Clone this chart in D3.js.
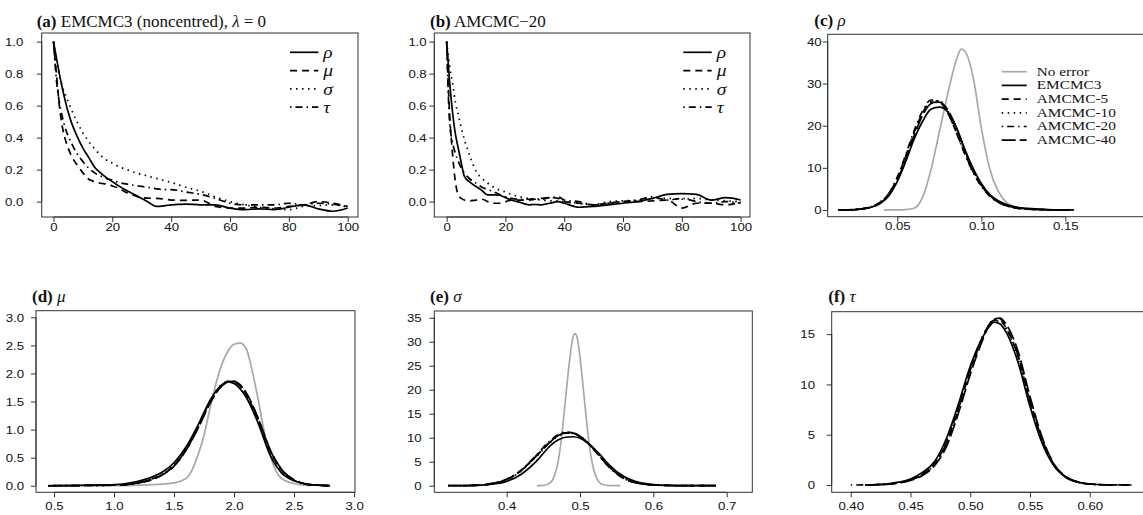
<!DOCTYPE html>
<html>
<head>
<meta charset="utf-8">
<script src="https://cdn.jsdelivr.net/npm/d3@7.9.0/dist/d3.min.js"></script>
<style>
  body { margin: 0; background: #fff; }
  svg { display: block; }
</style>
</head>
<body>
<svg id="chart" width="1143" height="515"></svg>
<script>
// ---- autocorrelation data (panels a, b) ----
const acfLags = [0,1,2,3,4,5,6,8,10,12,14,16,18,20,22,25,28,30,32,35,38,40,45,50,55,60,65,70,75,80,85,90,95,100];

const acfEmcmcRho = [1.0,0.9,0.8,0.71,0.63,0.56,0.5,0.41,0.335,0.275,0.215,0.18,0.15,0.125,0.1,0.068,0.04,0.02,0.0,-0.03,-0.025,-0.02,-0.015,-0.02,-0.02,-0.04,-0.05,-0.045,-0.05,-0.035,-0.02,-0.045,-0.06,-0.04];
const acfEmcmcMu = [1.0,0.8,0.6,0.47,0.39,0.335,0.29,0.23,0.18,0.14,0.125,0.115,0.11,0.098,0.085,0.055,0.035,0.025,0.022,0.02,0.015,0.01,0.008,0.01,-0.03,-0.04,-0.04,-0.035,-0.04,-0.03,-0.02,0.0,-0.01,-0.03];
const acfEmcmcSigma = [1.0,0.88,0.79,0.72,0.67,0.625,0.58,0.5,0.43,0.375,0.33,0.29,0.26,0.24,0.22,0.2,0.18,0.17,0.16,0.145,0.13,0.12,0.09,0.065,0.03,0.0,-0.02,-0.035,-0.045,-0.05,-0.03,-0.025,-0.02,-0.035];
const acfEmcmcTau = [1.0,0.76,0.62,0.53,0.46,0.41,0.37,0.3,0.25,0.21,0.18,0.16,0.145,0.135,0.12,0.11,0.1,0.095,0.09,0.08,0.075,0.075,0.06,0.045,0.02,-0.01,-0.02,-0.02,-0.02,-0.01,-0.02,-0.01,-0.015,-0.03];

const acfAmcmcRho = [1.0,0.75,0.56,0.42,0.33,0.24,0.16,0.12,0.095,0.07,0.042,0.042,0.04,0.025,0.01,-0.005,-0.02,-0.018,-0.02,-0.01,0.0,-0.01,-0.035,-0.03,-0.02,-0.01,0.0,0.02,0.045,0.05,0.045,0.01,0.025,0.01];
const acfAmcmcMu = [1.0,0.55,0.3,0.12,0.04,0.02,0.01,0.005,0.01,0.015,0.0,-0.01,-0.01,0.0,0.01,0.01,0.01,0.015,0.02,0.025,0.02,0.0,-0.01,-0.02,-0.01,0.0,0.0,0.005,0.01,-0.04,-0.01,-0.01,-0.02,0.0];
const acfAmcmcSigma = [1.0,0.85,0.74,0.62,0.54,0.46,0.39,0.28,0.19,0.145,0.115,0.09,0.072,0.06,0.045,0.03,0.02,0.015,0.01,0.005,0.005,0.0,-0.01,-0.02,0.0,0.005,0.01,0.02,0.02,0.015,0.02,0.01,0.005,0.0];
const acfAmcmcTau = [1.0,0.5,0.37,0.3,0.25,0.21,0.18,0.14,0.115,0.09,0.075,0.062,0.045,0.03,0.02,0.015,0.015,0.02,0.015,0.025,0.03,0.01,0.0,-0.02,-0.01,0.0,0.01,0.03,0.01,0.02,0.0,-0.01,0.0,-0.01];

// ---- posterior density data (panels c-f) ----
const rhoGrid = [0.015,0.02,0.025,0.03,0.035,0.04,0.045,0.05,0.055,0.06,0.065,0.07,0.075,0.08,0.085,0.09,0.095,0.10,0.105,0.11,0.115,0.12,0.13,0.14,0.155];
const rhoEmcmc3 = [0,0.02,0.1,0.3,0.7,1.6,3.4,6.8,11.5,16.8,21.0,23.9,24.4,23.3,19.8,14.6,10.0,6.3,3.7,2.2,1.3,0.75,0.3,0.1,0];
const rhoAmcmc5 = [0,0.02,0.1,0.3,0.8,1.8,3.9,7.6,12.8,18.4,23.0,25.6,25.5,23.0,18.6,13.6,9.2,5.8,3.4,1.9,1.0,0.5,0.15,0.05,0];
const rhoAmcmc10 = [0,0.02,0.1,0.3,0.8,1.7,3.7,7.3,12.4,18.0,22.8,25.6,25.9,23.6,19.2,14.0,9.5,6.0,3.5,2.0,1.1,0.55,0.18,0.05,0];
const rhoAmcmc20 = [0,0.02,0.1,0.35,0.85,1.9,4.0,7.8,13.1,18.8,23.5,26.1,25.8,23.1,18.5,13.4,9.0,5.6,3.3,1.8,1.0,0.5,0.15,0.04,0];
const rhoAmcmc40 = [0,0.02,0.1,0.3,0.75,1.7,3.6,7.1,12.0,17.6,22.4,25.2,25.6,23.8,19.6,14.4,9.6,6.0,3.5,2.0,1.1,0.55,0.18,0.05,0];
const rhoNoErrX = [0.042,0.05,0.055,0.06,0.065,0.07,0.075,0.08,0.085,0.088,0.09,0.095,0.10,0.105,0.11,0.115,0.12,0.13,0.143];
const rhoNoErr = [0,0.02,0.1,0.4,3.0,9.5,18.5,27.5,35.5,38.2,37.8,31.8,19.5,9.8,4.5,1.8,0.8,0.2,0];

const muGrid = [0.45,0.6,0.8,1.0,1.1,1.2,1.3,1.4,1.5,1.6,1.7,1.8,1.9,1.95,2.0,2.05,2.1,2.2,2.3,2.4,2.5,2.6,2.7,2.8];
const muEmcmc3 = [0,0.003,0.01,0.02,0.04,0.08,0.14,0.24,0.41,0.69,1.08,1.52,1.80,1.85,1.82,1.73,1.58,1.12,0.55,0.22,0.09,0.03,0.01,0];
const muAmcmc5 = [0,0.002,0.005,0.01,0.02,0.05,0.1,0.19,0.36,0.65,1.05,1.50,1.80,1.86,1.85,1.78,1.63,1.18,0.62,0.27,0.1,0.03,0.01,0];
const muAmcmc10 = [0,0.002,0.005,0.01,0.02,0.05,0.1,0.2,0.37,0.66,1.06,1.51,1.81,1.85,1.84,1.76,1.61,1.16,0.6,0.26,0.1,0.03,0.01,0];
const muAmcmc20 = [0,0.002,0.005,0.01,0.02,0.05,0.11,0.2,0.36,0.64,1.03,1.48,1.79,1.86,1.86,1.79,1.65,1.2,0.64,0.28,0.1,0.03,0.01,0];
const muAmcmc40 = [0,0.002,0.005,0.01,0.02,0.05,0.1,0.19,0.35,0.63,1.02,1.47,1.78,1.85,1.86,1.8,1.66,1.21,0.65,0.28,0.11,0.03,0.01,0];
const muNoErrX = [1.0,1.2,1.4,1.5,1.6,1.65,1.7,1.75,1.8,1.85,1.9,1.95,2.0,2.05,2.1,2.15,2.2,2.25,2.3,2.35,2.4,2.5,2.63];
const muNoErr = [0,0.01,0.03,0.05,0.13,0.28,0.55,0.9,1.38,1.82,2.17,2.40,2.52,2.54,2.45,2.06,1.55,0.98,0.55,0.26,0.12,0.04,0];

const sigmaGrid = [0.32,0.34,0.36,0.38,0.40,0.42,0.44,0.46,0.47,0.48,0.49,0.50,0.51,0.52,0.53,0.54,0.56,0.58,0.60,0.62,0.65,0.685];
const sigmaEmcmc3 = [null,0,0.05,0.3,0.9,2.4,5.0,8.4,9.5,10.1,10.2,9.9,9.0,7.6,6.0,4.3,1.9,0.7,0.25,0.08,0.02,0];
const sigmaAmcmc5 = [0,0.02,0.1,0.45,1.3,3.2,6.2,9.3,10.4,11.0,10.9,10.2,9.0,7.4,5.6,3.9,1.5,0.5,0.15,0.05,0.01,0];
const sigmaAmcmc10 = [null,0.02,0.1,0.42,1.25,3.1,6.0,9.1,10.3,10.9,10.9,10.3,9.1,7.5,5.7,4.0,1.6,0.5,0.15,0.05,0.01,0];
const sigmaAmcmc20 = [0,0.02,0.12,0.48,1.35,3.3,6.3,9.5,10.6,11.2,11.0,10.2,8.9,7.3,5.5,3.8,1.5,0.5,0.15,0.05,0.01,0];
const sigmaAmcmc40 = [0,0.02,0.1,0.44,1.3,3.2,6.1,9.2,10.4,11.0,11.0,10.3,9.0,7.4,5.6,3.9,1.5,0.5,0.15,0.05,0.01,0];
const sigmaNoErrX = [0.441,0.45,0.46,0.465,0.47,0.475,0.48,0.485,0.49,0.493,0.496,0.50,0.505,0.51,0.515,0.52,0.525,0.53,0.54,0.555];
const sigmaNoErr = [0,0.05,0.7,2.0,4.9,10.3,17.7,25.1,30.7,31.7,30.9,26.8,19.4,11.9,6.1,2.6,0.95,0.29,0.02,0];

const tauGrid = [0.40,0.412,0.43,0.44,0.45,0.46,0.47,0.48,0.49,0.50,0.51,0.515,0.52,0.525,0.53,0.54,0.55,0.56,0.57,0.58,0.59,0.60,0.615,0.635];
const tauEmcmc3 = [null,0,0.1,0.28,0.6,1.25,2.3,4.6,8.0,11.8,14.6,15.6,16.2,16.0,15.2,12.2,7.8,4.2,1.9,0.75,0.28,0.1,0.02,null];
const tauAmcmc5 = [null,0,0.08,0.22,0.5,1.05,2.1,4.2,7.6,11.5,14.6,15.8,16.4,16.4,15.6,12.8,8.3,4.5,2.0,0.8,0.3,0.1,0.02,0];
const tauAmcmc10 = [null,0,0.08,0.23,0.52,1.1,2.15,4.3,7.7,11.6,14.7,15.8,16.3,16.3,15.5,12.6,8.1,4.4,2.0,0.8,0.3,0.1,0.02,null];
const tauAmcmc20 = [0,0.01,0.08,0.22,0.5,1.05,2.05,4.1,7.5,11.4,14.5,15.8,16.5,16.5,15.7,12.9,8.4,4.6,2.05,0.8,0.3,0.1,0.02,0];
const tauAmcmc40 = [null,0,0.07,0.2,0.45,0.95,1.9,3.8,7.1,11.0,14.3,15.7,16.5,16.6,16.0,13.3,8.8,4.8,2.1,0.85,0.3,0.1,0.02,0];

const acfNames = ["ρ", "μ", "σ", "τ"];
const methodNames = ["No error", "EMCMC3", "AMCMC-5", "AMCMC-10", "AMCMC-20", "AMCMC-40"];

// ---- styling ----
const dashes = {
  solid: null,
  dashed: "7,5",
  dotted: "1.5,4.5",
  dotdash: "1.5,4,7,4",
  longdash: "14,4"
};
const GREY = "#a8a8a8";
const SANS = "'Liberation Sans', Arial, sans-serif";
const SERIF = "'Liberation Serif', 'Times New Roman', serif";
const SX = 1.2; // tick labels in the original are horizontally stretched

const svg = d3.select("#chart");

function methodSeries(xs, noErr, noErrX, e3, a5, a10, a20, a40) {
  const out = [];
  if (noErr) out.push({ x: noErrX, y: noErr, dash: "solid", color: GREY });
  out.push({ x: xs, y: e3, dash: "solid" });
  out.push({ x: xs, y: a5, dash: "dashed" });
  out.push({ x: xs, y: a10, dash: "dotted" });
  out.push({ x: xs, y: a20, dash: "dotdash" });
  out.push({ x: xs, y: a40, dash: "longdash" });
  return out;
}

const panels = [
  {
    box: { x0: 41.7, x1: 358, y0: 33, y1: 217 }, xlim: [-4, 103.5], ylim: [-0.096, 1.054],
    xTicks: [0, 20, 40, 60, 80, 100], xFmt: "d", yTicks: [0, 0.2, 0.4, 0.6, 0.8, 1.0], yFmt: ".1f",
    yGap: 18.4, xBase: 13.7,
    title: { x: 36.7, y: 26.7, tag: "(a)", parts: [[" EMCMC3 (noncentred), ", false], ["λ", true], [" = 0", false]] },
    series: [
      { x: acfLags, y: acfEmcmcRho, dash: "solid" },
      { x: acfLags, y: acfEmcmcMu, dash: "dashed" },
      { x: acfLags, y: acfEmcmcSigma, dash: "dotted" },
      { x: acfLags, y: acfEmcmcTau, dash: "dotdash" }
    ],
    legend: { x0: 290, x1: 318.3, tx: 323.3, y0: 52.3, dy: 18.3, labels: acfNames, italic: true, size: 17, sx: 1.15,
      dash: ["solid", "dashed", "dotted", "dotdash"] }
  },
  {
    box: { x0: 434.3, x1: 750, y0: 33, y1: 217 }, xlim: [-4.2, 103.2], ylim: [-0.096, 1.054],
    xTicks: [0, 20, 40, 60, 80, 100], xFmt: "d", yTicks: [0, 0.2, 0.4, 0.6, 0.8, 1.0], yFmt: ".1f",
    yGap: 7.6, xBase: 13.7,
    title: { x: 430, y: 26.7, tag: "(b)", parts: [[" AMCMC\u221220", false]] },
    series: [
      { x: acfLags, y: acfAmcmcRho, dash: "solid" },
      { x: acfLags, y: acfAmcmcMu, dash: "dashed" },
      { x: acfLags, y: acfAmcmcSigma, dash: "dotted" },
      { x: acfLags, y: acfAmcmcTau, dash: "dotdash" }
    ],
    legend: { x0: 683.3, x1: 711.7, tx: 716.7, y0: 52.3, dy: 18.3, labels: acfNames, italic: true, size: 17, sx: 1.15,
      dash: ["solid", "dashed", "dotted", "dotdash"] }
  },
  {
    box: { x0: 827.7, x1: 1150, y0: 34.3, y1: 216.7 }, xlim: [0.00857, 0.2004], ylim: [-1.6, 41.7],
    xTicks: [0.05, 0.10, 0.15], xFmt: ".2f", yTicks: [0, 10, 20, 30, 40], yFmt: "d",
    yGap: 6, xBase: 13.7,
    title: { x: 814.3, y: 26, tag: "(c)", parts: [[" ", false], ["ρ", true]] },
    series: methodSeries(rhoGrid, rhoNoErr, rhoNoErrX, rhoEmcmc3, rhoAmcmc5, rhoAmcmc10, rhoAmcmc20, rhoAmcmc40),
    legend: { x0: 1001.7, x1: 1026.7, tx: 1036.7, y0: 71.7, dy: 13.7, labels: methodNames, italic: false, size: 11.8, sx: 1.3,
      dash: ["solid", "solid", "dashed", "dotted", "dotdash", "longdash"], colors: [GREY] }
  },
  {
    box: { x0: 36, x1: 355, y0: 310.7, y1: 492.3 }, xlim: [0.35, 3.008], ylim: [-0.117, 3.118],
    xTicks: [0.5, 1.0, 1.5, 2.0, 2.5, 3.0], xFmt: ".1f", yTicks: [0, 0.5, 1.0, 1.5, 2.0, 2.5, 3.0], yFmt: ".1f",
    yGap: 12, xBase: 18,
    title: { x: 32, y: 301.7, tag: "(d)", parts: [[" ", false], ["μ", true]] },
    series: methodSeries(muGrid, muNoErr, muNoErrX, muEmcmc3, muAmcmc5, muAmcmc10, muAmcmc20, muAmcmc40)
  },
  {
    box: { x0: 434.3, x1: 752.3, y0: 311, y1: 492.3 }, xlim: [0.3013, 0.7349], ylim: [-1.375, 36.4],
    xTicks: [0.4, 0.5, 0.6, 0.7], xFmt: ".1f", yTicks: [0, 5, 10, 15, 20, 25, 30, 35], yFmt: "d",
    yGap: 12.6, xBase: 18,
    title: { x: 430, y: 301.5, tag: "(e)", parts: [[" ", false], ["σ", true]] },
    series: methodSeries(sigmaGrid, sigmaNoErr, sigmaNoErrX, sigmaEmcmc3, sigmaAmcmc5, sigmaAmcmc10, sigmaAmcmc20, sigmaAmcmc40)
  },
  {
    box: { x0: 831.7, x1: 1150, y0: 311.7, y1: 492.3 }, xlim: [0.3841, 0.6504], ylim: [-0.726, 17.23],
    xTicks: [0.40, 0.45, 0.50, 0.55, 0.60], xFmt: ".2f", yTicks: [0, 5, 10, 15], yFmt: "d",
    yGap: 16.7, xBase: 18,
    title: { x: 828.3, y: 301.5, tag: "(f)", parts: [[" ", false], ["τ", true]] },
    series: methodSeries(tauGrid, null, null, tauEmcmc3, tauAmcmc5, tauAmcmc10, tauAmcmc20, tauAmcmc40)
  }
];

function drawPanel(p) {
  const b = p.box;
  const g = svg.append("g");
  const x = d3.scaleLinear().domain(p.xlim).range([b.x0, b.x1]);
  const y = d3.scaleLinear().domain(p.ylim).range([b.y1, b.y0]);

  // curves
  const line = d3.line()
    .defined(d => d[1] != null)
    .x(d => x(d[0]))
    .y(d => y(d[1]))
    .curve(d3.curveMonotoneX);

  p.series.forEach(s => {
    const pts = s.x.map((v, i) => [v, s.y[i]]);
    g.append("path")
      .attr("d", line(pts))
      .attr("fill", "none")
      .attr("stroke", s.color || "#000")
      .attr("stroke-width", 1.7)
      .attr("stroke-linejoin", "round")
      .attr("stroke-dasharray", dashes[s.dash]);
  });

  // frame
  g.append("rect")
    .attr("x", b.x0).attr("y", b.y0)
    .attr("width", b.x1 - b.x0).attr("height", b.y1 - b.y0)
    .attr("fill", "none").attr("stroke", "#333").attr("stroke-width", 1);

  // x axis
  const gx = g.append("g")
    .attr("transform", `translate(0,${b.y1})`)
    .call(d3.axisBottom(x).tickValues(p.xTicks).tickFormat(d3.format(p.xFmt)).tickSize(5).tickPadding(0));
  gx.select(".domain").remove();
  gx.append("line")
    .attr("x1", x(p.xTicks[0])).attr("x2", x(p.xTicks[p.xTicks.length - 1]))
    .attr("stroke", "#333");
  gx.selectAll(".tick line").attr("stroke", "#333");
  gx.selectAll(".tick text")
    .attr("y", 0).attr("dy", null)
    .attr("transform", `translate(0,${p.xBase}) scale(${SX},1)`)
    .attr("fill", "#111")
    .style("font-family", SANS).style("font-size", "11px");

  // y axis
  const gy = g.append("g")
    .attr("transform", `translate(${b.x0},0)`)
    .call(d3.axisLeft(y).tickValues(p.yTicks).tickFormat(d3.format(p.yFmt)).tickSize(5).tickPadding(0));
  gy.select(".domain").remove();
  gy.append("line")
    .attr("y1", y(p.yTicks[0])).attr("y2", y(p.yTicks[p.yTicks.length - 1]))
    .attr("stroke", "#333");
  gy.selectAll(".tick line").attr("stroke", "#333");
  gy.selectAll(".tick text")
    .attr("x", 0).attr("dy", "0.35em")
    .attr("transform", `translate(${-p.yGap},0) scale(${SX},1)`)
    .attr("fill", "#111")
    .style("font-family", SANS).style("font-size", "11px");

  // title
  const t = g.append("text")
    .attr("x", p.title.x).attr("y", p.title.y)
    .style("font-family", SERIF).style("font-size", "17px").attr("fill", "#111");
  t.append("tspan").attr("font-weight", "bold").text(p.title.tag);
  p.title.parts.forEach(([txt, it]) => {
    t.append("tspan").attr("font-style", it ? "italic" : "normal").style("white-space", "pre").text(txt);
  });

  // legend
  if (p.legend) {
    const L = p.legend;
    L.labels.forEach((lab, i) => {
      const yy = L.y0 + i * L.dy;
      g.append("line")
        .attr("x1", L.x0).attr("x2", L.x1).attr("y1", yy).attr("y2", yy)
        .attr("stroke", (L.colors && L.colors[i]) || "#000")
        .attr("stroke-width", 1.7)
        .attr("stroke-dasharray", dashes[L.dash[i]]);
      g.append("text")
        .attr("x", 0).attr("y", 0).attr("dy", "0.33em")
        .attr("transform", `translate(${L.tx},${yy}) scale(${L.sx},1)`)
        .attr("font-style", L.italic ? "italic" : "normal")
        .style("font-family", SERIF).style("font-size", L.size + "px")
        .attr("fill", "#111")
        .text(lab);
    });
  }
}

panels.forEach(drawPanel);
</script>
</body>
</html>
